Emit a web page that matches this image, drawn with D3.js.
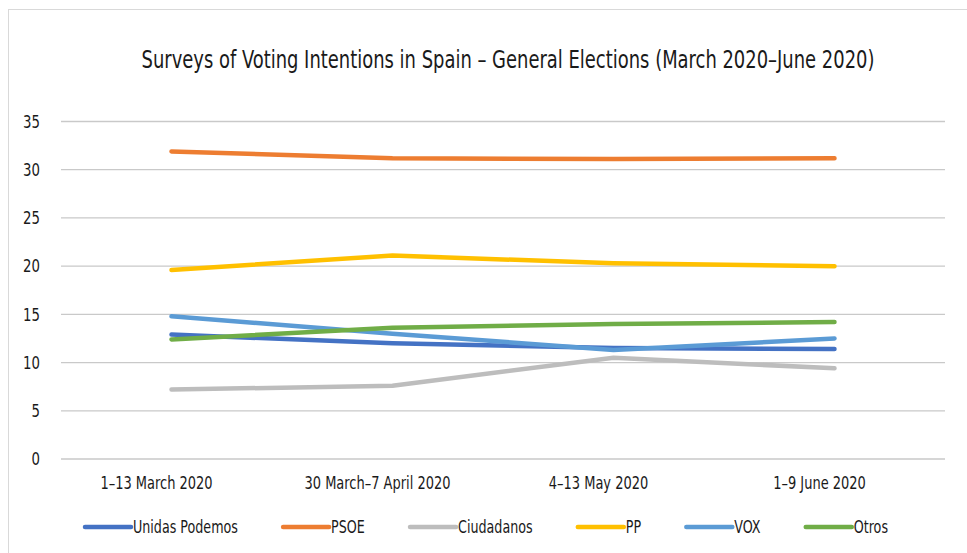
<!DOCTYPE html>
<html>
<head>
<meta charset="utf-8">
<script src="https://cdn.jsdelivr.net/npm/d3@7"></script>
<style>
    body { margin: 0; background: #ffffff; }
    text { font-family: "Liberation Sans Narrow", "DejaVu Sans Condensed", sans-serif; fill: #1a1a1a; }
</style>
</head>
<body>
<script>
// data
var periods = ["1\u201313 March 2020", "30 March\u20137 April 2020", "4\u201313 May 2020", "1\u20139 June 2020"];
var parties = ["Unidas Podemos", "PSOE", "Ciudadanos", "PP", "VOX", "Otros"];
var unidasPodemos = [12.9, 12.0, 11.5, 11.4];
var psoe = [31.9, 31.2, 31.1, 31.2];
var ciudadanos = [7.2, 7.6, 10.5, 9.4];
var pp = [19.6, 21.1, 20.3, 20.0];
var vox = [14.8, 13.0, 11.3, 12.5];
var otros = [12.4, 13.6, 14.0, 14.2];
var yTicks = [0, 5, 10, 15, 20, 25, 30, 35];
var colours = ["#4472c4", "#ed7d31", "#bdbdbd", "#ffc000", "#5b9bd5", "#70ad47"];

// squeeze text horizontally so it looks like the narrow font of the original
function condense(selection, factor) {
    selection.each(function() {
        var len = this.getComputedTextLength();
        d3.select(this)
          .attr("textLength", len * factor)
          .attr("lengthAdjust", "spacingAndGlyphs");
    });
}

function drawChart() {
    var svg_width = 967;
    var svg_height = 553;
    var seriesValues = [unidasPodemos, psoe, ciudadanos, pp, vox, otros];

    var svg = d3.select("body")
                .append("svg")
                .attr("width", svg_width)
                .attr("height", svg_height);

    // chart area border
    svg.append("rect")
        .attr("x", 8.5)
        .attr("y", 9.5)
        .attr("width", 980)
        .attr("height", 580)
        .attr("fill", "none")
        .attr("stroke", "#d9d9d9")
        .attr("stroke-width", 1);

    // title is scaled with a transform so that its box stays inside the page
    var title = svg.append("text")
        .attr("text-anchor", "middle")
        .style("font-size", "25px")
        .text("Surveys of Voting Intentions in Spain \u2013 General Elections (March 2020\u2013June 2020)");
    var titleLen = title.node().getComputedTextLength();
    title.attr("transform", "translate(508,68) scale(" + (733 / titleLen) + ",1)");

    var xScale = d3.scaleBand()
                   .domain(periods)
                   .range([61, 945]);

    var yScale = d3.scaleLinear()
                   .domain([0, 35])
                   .range([459, 121.5]);

    // gridlines
    svg.append("g")
        .selectAll("line")
        .data(yTicks)
        .enter()
        .append("line")
        .attr("x1", 61)
        .attr("x2", 945)
        .attr("y1", function(d) { return yScale(d); })
        .attr("y2", function(d) { return yScale(d); })
        .attr("stroke", "#c9c9c9")
        .attr("stroke-width", 1.3);

    var yAxis = svg.append("g")
                   .attr("transform", "translate(61,0)")
                   .call(d3.axisLeft(yScale).tickValues(yTicks).tickSize(0).tickPadding(21));
    yAxis.select(".domain").remove();
    yAxis.selectAll("text")
         .style("font-size", "18px")
         .attr("fill", "#1a1a1a")
         .call(condense, 0.82);

    var xAxis = svg.append("g")
                   .attr("transform", "translate(0,459)")
                   .call(d3.axisBottom(xScale).tickSize(0).tickPadding(18));
    xAxis.select(".domain").remove();
    xAxis.selectAll("text")
         .style("font-size", "17px")
         .attr("dx", -15)
         .attr("fill", "#1a1a1a")
         .call(condense, 0.85);

    var line = d3.line()
                 .x(function(d, i) { return xScale(periods[i]) + xScale.bandwidth() / 2; })
                 .y(function(d) { return yScale(d); });

    svg.append("g")
        .selectAll("path")
        .data(seriesValues)
        .enter()
        .append("path")
        .attr("d", function(d) { return line(d); })
        .attr("fill", "none")
        .attr("stroke", function(d, i) { return colours[i]; })
        .attr("stroke-width", 4.5)
        .attr("stroke-linecap", "round")
        .attr("stroke-linejoin", "round");

    // legend, laid out from the measured text widths
    var legend = svg.append("g");
    var items = legend.selectAll("g")
                      .data(parties)
                      .enter()
                      .append("g");
    items.append("line")
         .attr("x1", 0)
         .attr("x2", 46)
         .attr("y1", 0)
         .attr("y2", 0)
         .attr("stroke", function(d, i) { return colours[i]; })
         .attr("stroke-width", 4.5)
         .attr("stroke-linecap", "round");
    items.append("text")
         .attr("x", 48)
         .attr("y", 6)
         .style("font-size", "17px")
         .text(function(d) { return d; })
         .call(condense, 0.83);

    var widths = [];
    items.each(function() {
        widths.push(48 + +d3.select(this).select("text").attr("textLength"));
    });
    var gap = (803 - d3.sum(widths)) / (widths.length - 1);
    var x = 85;
    items.each(function(d, i) {
        d3.select(this).attr("transform", "translate(" + x + ",527)");
        x += widths[i] + gap;
    });
}

window.onload = function() {
    drawChart();
};
</script>
</body>
</html>
